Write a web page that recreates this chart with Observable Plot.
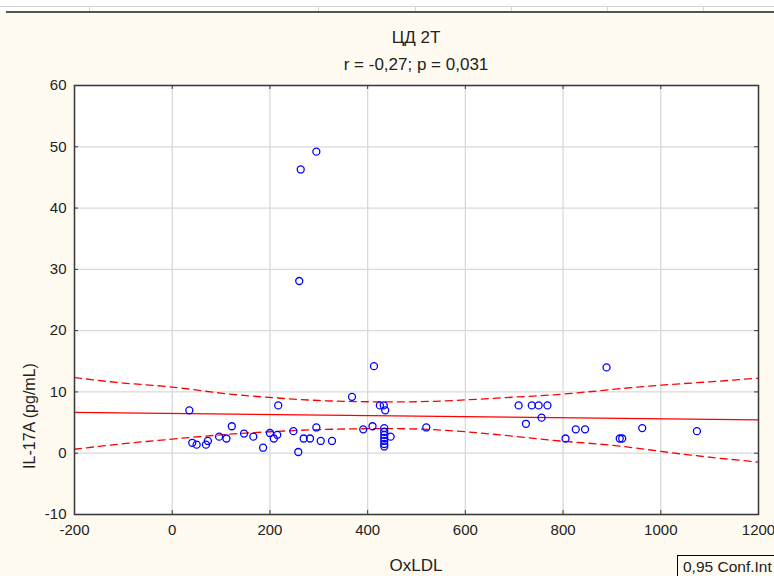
<!DOCTYPE html>
<html>
<head>
<meta charset="utf-8">
<script src="https://cdn.jsdelivr.net/npm/d3@7"></script>
<script src="https://cdn.jsdelivr.net/npm/@observablehq/plot@0.6"></script>
<style>
  html, body { margin: 0; padding: 0; }
  body {
    width: 774px; height: 576px; position: relative; overflow: hidden;
    background: #fffbf0; color: #222;
    font-family: "Liberation Sans", Arial, sans-serif;
  }
  #chart { position: absolute; left: 0; top: 0; }
  .txt { position: absolute; white-space: nowrap; line-height: 1; font-size: 17px; }
  .strip { position: absolute; left: 0; top: 0; width: 774px; height: 11px; background: #fff; }
  .strip .h { position: absolute; left: 0; top: 6px; width: 774px; height: 1px; background: #d4d4d4; }
  .strip .v { position: absolute; top: 6px; width: 1px; height: 5px; background: #d4d4d4; }
  .edge { position: absolute; left: 6px; top: 11px; width: 768px; height: 2px; background: #555; }
  .legend {
    position: absolute; left: 677px; top: 555px; padding: 3px 12px 6px 5px;
    border: 1px solid #000; background: #fffbf0; font-size: 15.5px; line-height: 1;
    white-space: nowrap;
  }
</style>
</head>
<body>
<div class="strip">
  <div class="h"></div>
  <div class="v" style="left:89px"></div>
  <div class="v" style="left:318px"></div>
  <div class="v" style="left:415px"></div>
  <div class="v" style="left:511px"></div>
  <div class="v" style="left:607px"></div>
  <div class="v" style="left:703px"></div>
</div>
<div class="edge"></div>
<div id="chart"></div>
<div class="txt" id="title" style="left:416px; top:29px; transform:translateX(-50%)">ЦД 2Т</div>
<div class="txt" id="subtitle" style="left:416px; top:56px; transform:translateX(-50%)">r = -0,27; p = 0,031</div>
<div class="txt" id="xlabel" style="left:416px; top:557px; transform:translateX(-50%)">OxLDL</div>
<div class="txt" id="ylabel" style="left:30px; top:416px; font-size:16px; transform:translate(-50%,-50%) rotate(-90deg)">IL-17A (pg/mL)</div>
<div class="legend">0,95 Conf.Int</div>
<script>
// Observations: OxLDL (x) against IL-17A in pg/mL (y)
const oxldl = [35, 41, 50, 69, 73, 96, 111, 122, 147, 166, 186, 200, 208, 215, 217, 248, 258, 260, 263, 269,
  282, 295, 295, 304, 327, 368, 391, 410, 413, 425, 433, 436, 434, 434, 434, 434, 434, 434, 434, 447,
  520, 709, 724, 736, 750, 756, 768, 805, 826, 845, 889, 916, 921, 962, 1074];
const il17a = [7.0, 1.7, 1.4, 1.4, 2.0, 2.7, 2.4, 4.4, 3.2, 2.7, 0.9, 3.3, 2.4, 3.0, 7.8, 3.6, 0.2, 28.1, 46.3, 2.4,
  2.4, 4.2, 49.2, 2.0, 2.0, 9.2, 3.9, 4.4, 14.2, 7.8, 7.8, 7.0, 4.1, 3.5, 3.0, 2.5, 2.0, 1.5, 1.1, 2.7,
  4.2, 7.8, 4.8, 7.8, 7.8, 5.8, 7.8, 2.4, 3.9, 3.9, 14.0, 2.4, 2.4, 4.1, 3.6];

// Fitted regression line
const fitX = [-200, 1200];
const fitY = [6.65, 5.45];

// 95% confidence limits of the fit
const bandX = [-200, -100, 0, 100, 200, 300, 400, 500, 600, 700, 800, 900, 1000, 1100, 1200];
const bandUpper = [12.35, 11.45, 10.8, 9.8, 9.1, 8.6, 8.4, 8.4, 8.7, 9.15, 9.65, 10.4, 11.1, 11.65, 12.25];
const bandLower = [0.65, 1.55, 2.3, 3.0, 3.5, 3.85, 4.0, 3.95, 3.5, 2.75, 1.95, 1.3, 0.3, -0.65, -1.45];

// Axis ticks
const xTicks = [-200, 0, 200, 400, 600, 800, 1000, 1200];
const yTicks = [-10, 0, 10, 20, 30, 40, 50, 60];

const points = oxldl.map((x, i) => ({x, y: il17a[i]}));
const fit = fitX.map((x, i) => ({x, y: fitY[i]}));
const upper = bandX.map((x, i) => ({x, y: bandUpper[i]}));
const lower = bandX.map((x, i) => ({x, y: bandLower[i]}));

const W = 774, H = 576;
const mL = 74, mR = 16, mT = 85, mB = 62;
const innerW = W - mL - mR, innerH = H - mT - mB;
const tick = 4;
const font = '"Liberation Sans", Arial, sans-serif';

const red = "#ff0000";
const grid = "#d9d9d9";
const dark = "#3a3a3a";

const chart = Plot.plot({
  width: W,
  height: H,
  marginLeft: mL, marginRight: mR, marginTop: mT, marginBottom: mB,
  style: {background: "transparent", fontFamily: font, fontSize: "15px", color: "#222"},
  x: {domain: [-200, 1200], label: null},
  y: {domain: [-10, 60], label: null},
  marks: [
    Plot.frame({fill: "white", stroke: null}),
    Plot.gridX(xTicks, {stroke: grid, strokeOpacity: 1, strokeWidth: 1.3}),
    Plot.gridY(yTicks, {stroke: grid, strokeOpacity: 1, strokeWidth: 1.3}),
    Plot.line(upper, {x: "x", y: "y", stroke: red, strokeWidth: 1.3, strokeDasharray: "7,5", curve: "natural"}),
    Plot.line(lower, {x: "x", y: "y", stroke: red, strokeWidth: 1.3, strokeDasharray: "7,5", curve: "natural"}),
    Plot.line(fit, {x: "x", y: "y", stroke: red, strokeWidth: 1.3}),
    Plot.dot(points, {x: "x", y: "y", r: 3.5, stroke: "#0000ff", strokeWidth: 1.3, fill: "none"}),
    // inward tick marks on all four sides of the frame
    Plot.tickX(xTicks, {x: d => d, stroke: dark, insetBottom: innerH - tick}),
    Plot.tickX(xTicks, {x: d => d, stroke: dark, insetTop: innerH - tick}),
    Plot.tickY(yTicks, {y: d => d, stroke: dark, insetRight: innerW - tick}),
    Plot.tickY(yTicks, {y: d => d, stroke: dark, insetLeft: innerW - tick}),
    Plot.frame({stroke: dark, strokeWidth: 1.5}),
    Plot.axisX(xTicks, {tickSize: 0, tickPadding: 10, tickFormat: d => String(d), fontSize: 15, fill: "#222"}),
    Plot.axisY(yTicks, {tickSize: 0, tickPadding: 8, tickFormat: d => String(d), fontSize: 15, fill: "#222"})
  ]
});
document.getElementById("chart").appendChild(chart);
</script>
</body>
</html>
